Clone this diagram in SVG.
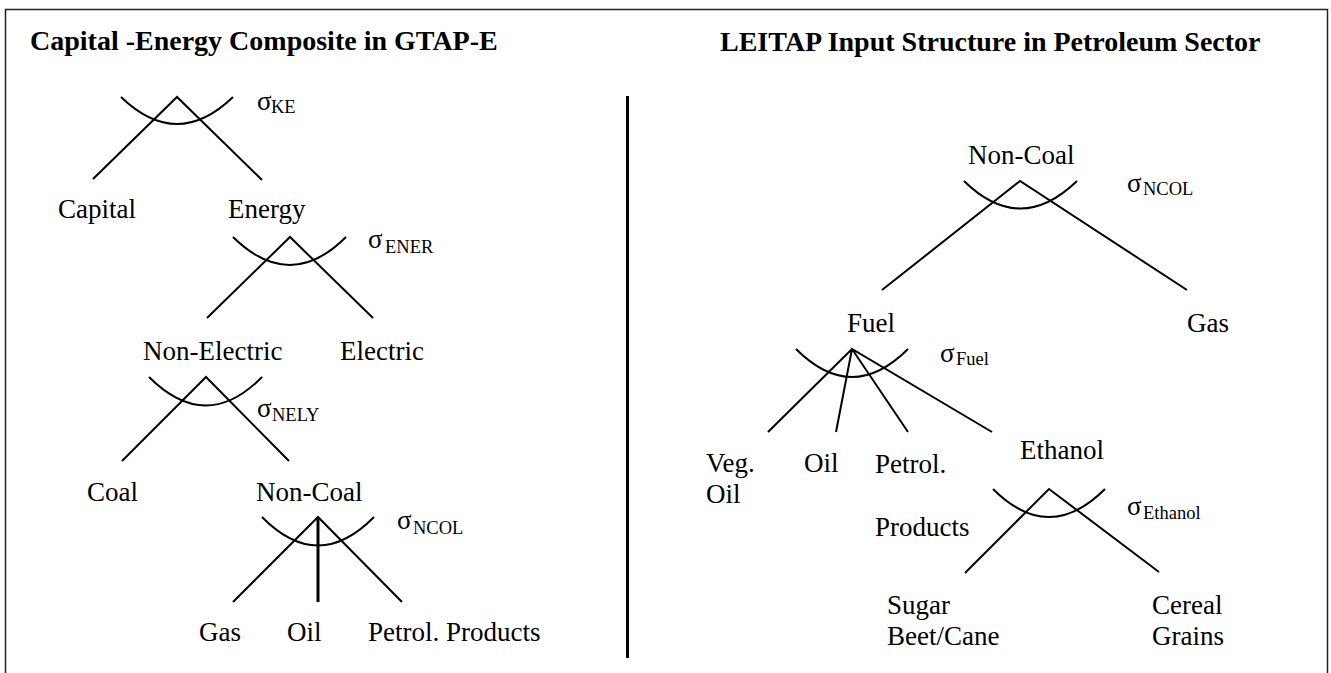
<svg xmlns="http://www.w3.org/2000/svg" width="1331" height="673" viewBox="0 0 1331 673">
<style>
text{font-family:"Liberation Serif","Times New Roman",serif;fill:#000}
.t{font-size:27px}
.h{font-size:28px;font-weight:bold}
.s{font-size:27px}
.sub{font-size:18.5px}
.ln{stroke:#000;stroke-width:2;fill:none}
.arc{stroke:#000;stroke-width:2;fill:none}
</style>
<rect width="1331" height="673" fill="#fff"/>
<path d="M5.5,673 V9.5 H1327.5 V673" fill="none" stroke="#222" stroke-width="1.5"/>
<line x1="627.5" y1="96" x2="627.5" y2="658" stroke="#000" stroke-width="3"/>
<text class="h" x="30" y="50">Capital -Energy Composite in GTAP-E</text>
<text class="h" x="720" y="51">LEITAP Input Structure in Petroleum Sector</text>
<g id="connectors">
<path class="ln" d="M93,179 L177,97 L262,180"/>
<path class="ln" d="M207,318 L290,237 L373,318"/>
<path class="ln" d="M122,461 L206,377 L289,461"/>
<path class="ln" d="M233,602 L318,517 L402,602"/>
<line x1="318" y1="517" x2="318" y2="602" stroke="#000" stroke-width="3"/>
<path class="ln" d="M882,290 L1020,181 L1187,290"/>
<path class="ln" d="M768,432 L852,349 L992,432 M852,349 L836,432 M852,349 L908,432"/>
<path class="ln" d="M965,573 L1049,489 L1159,572"/>
</g>
<g id="node-ke">
<path class="arc" d="M121,97 Q177,151 233,97"/>
<text class="s" x="257" y="110">σ</text><text class="sub" x="271" y="113">KE</text>
</g>
<g id="node-capital"><text class="t" x="58" y="218">Capital</text></g>
<g id="node-energy">
<text class="t" x="228" y="218">Energy</text>
<path class="arc" d="M233,237 Q290,293 346,237"/>
<text class="s" x="368" y="248">σ</text><text class="sub" x="385" y="253">ENER</text>
</g>
<g id="node-nonelectric">
<text class="t" x="143" y="360">Non-Electric</text>
<path class="arc" d="M149,377 Q206,434 262,377"/>
<text class="s" x="257" y="417">σ</text><text class="sub" x="272" y="421">NELY</text>
</g>
<g id="node-electric"><text class="t" x="340" y="360">Electric</text></g>
<g id="node-coal"><text class="t" x="87" y="501">Coal</text></g>
<g id="node-noncoal-left">
<text class="t" x="256" y="501">Non-Coal</text>
<path class="arc" d="M262,517 Q318,574 374,517"/>
<text class="s" x="397" y="529">σ</text><text class="sub" x="413" y="534">NCOL</text>
</g>
<g id="node-gas-left"><text class="t" x="199" y="641">Gas</text></g>
<g id="node-oil-left"><text class="t" x="287" y="641">Oil</text></g>
<g id="node-petrol-left"><text class="t" x="368" y="641">Petrol. Products</text></g>
<g id="node-noncoal-right">
<text class="t" x="968" y="164">Non-Coal</text>
<path class="arc" d="M964,181 Q1020,236 1077,181"/>
<text class="s" x="1127" y="192">σ</text><text class="sub" x="1143" y="195">NCOL</text>
</g>
<g id="node-fuel">
<text class="t" x="847" y="332">Fuel</text>
<path class="arc" d="M796,349 Q852,405 908,349"/>
<text class="s" x="940" y="362">σ</text><text class="sub" x="956" y="365">Fuel</text>
</g>
<g id="node-gas-right"><text class="t" x="1187" y="332">Gas</text></g>
<g id="node-vegoil"><text class="t" x="706" y="472">Veg.</text><text class="t" x="706" y="503">Oil</text></g>
<g id="node-oil-right"><text class="t" x="804" y="472">Oil</text></g>
<g id="node-petrol-right"><text class="t" x="875" y="473">Petrol.</text><text class="t" x="875" y="536">Products</text></g>
<g id="node-ethanol">
<text class="t" x="1020" y="459">Ethanol</text>
<path class="arc" d="M993,489 Q1049,545 1105,489"/>
<text class="s" x="1127" y="515">σ</text><text class="sub" x="1143" y="519">Ethanol</text>
</g>
<g id="node-sugar"><text class="t" x="887" y="614">Sugar</text><text class="t" x="887" y="645">Beet/Cane</text></g>
<g id="node-cereal"><text class="t" x="1152" y="614">Cereal</text><text class="t" x="1152" y="645">Grains</text></g>
</svg>
